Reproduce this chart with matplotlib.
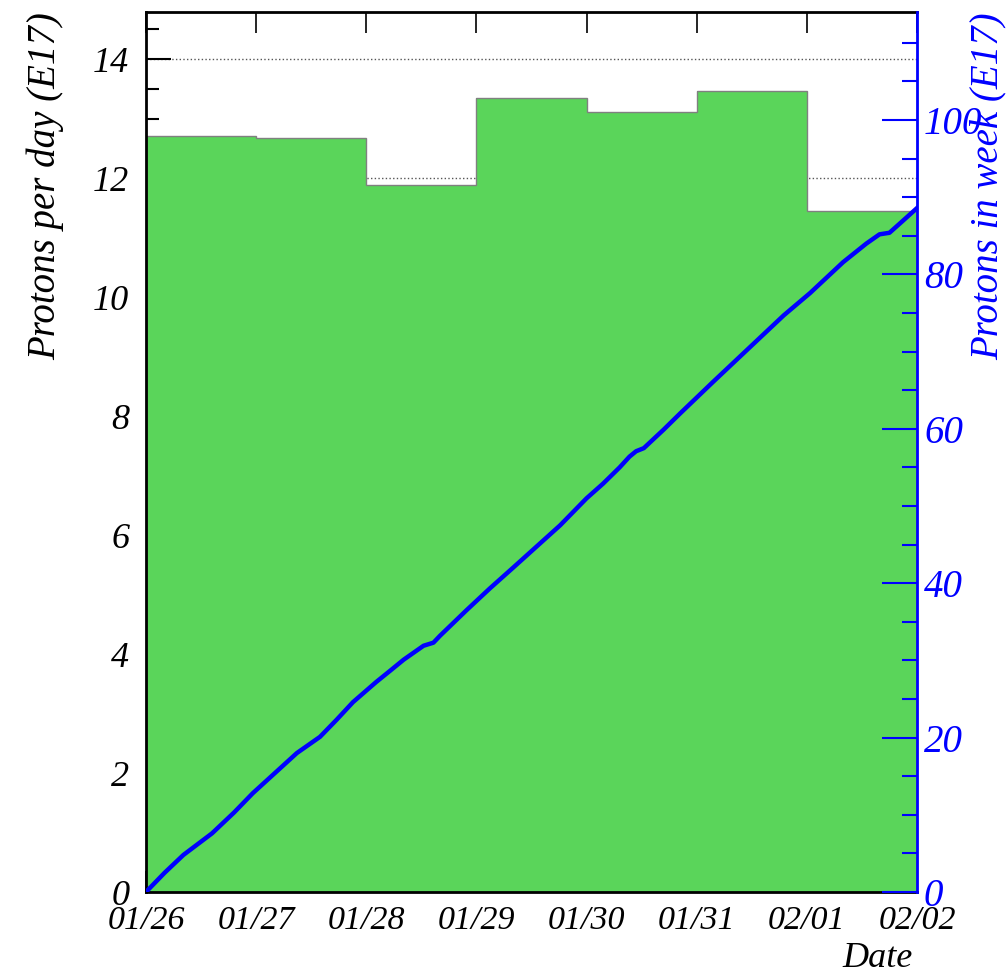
import numpy as np
from matplotlib import pyplot as plt

# daily delivered protons (E17), one bin per day
day_labels = ['01/26', '01/27', '01/28', '01/29', '01/30', '01/31', '02/01', '02/02']
per_day = [12.71, 12.67, 11.88, 13.35, 13.11, 13.46, 11.44]

# running total over the week (E17), time in days since 01/26
t_days = [0, 0.17, 0.34, 0.47, 0.60, 0.80, 0.97, 1.17, 1.37, 1.58, 1.73, 1.88,
          2.09, 2.22, 2.34, 2.45, 2.52, 2.61, 2.67, 2.91, 3.12, 3.34, 3.55, 3.76,
          4.00, 4.15, 4.30, 4.39, 4.45, 4.52, 4.70, 4.85, 5.15, 5.47, 5.79, 6.03,
          6.33, 6.54, 6.66, 6.75, 6.86, 7.0]
cumul = [0, 2.5, 4.8, 6.2, 7.6, 10.3, 12.8, 15.4, 18.0, 20.1, 22.3, 24.6,
         27.2, 28.7, 30.1, 31.2, 31.9, 32.3, 33.2, 36.5, 39.3, 42.1, 44.8, 47.5,
         51.0, 52.9, 55.0, 56.4, 57.1, 57.5, 59.9, 62.0, 66.1, 70.4, 74.7, 77.6,
         81.6, 84.0, 85.2, 85.4, 86.8, 88.6]

plt.rcParams['font.family'] = 'Liberation Serif'
plt.rcParams['font.style'] = 'italic'

fig = plt.figure(figsize=(10.08, 9.77), dpi=100)
ax = fig.add_axes([0.1448, 0.087, 0.7649, 0.9007])

edges = np.arange(len(per_day) + 1)
ax.stairs(per_day, edges, fill=True, color='#5AD55A', zorder=2)
ax.stairs(per_day, edges, color='#808080', lw=1, zorder=2.1)
ax.set_axisbelow(True)
ax.yaxis.grid(True, linestyle=':', color='#555555', lw=1)

ax.set_xlim(0, 7)
ax.set_ylim(0, 14.79)
ax.set_xticks(edges)
ax.set_xticklabels(day_labels)
ax.set_yticks(np.arange(0, 15, 2))
ax.set_yticks(np.arange(0, 14.8, 0.5), minor=True)
ax.tick_params(axis='x', direction='in', length=15, width=1.2, top=True,
               labelsize=24.5, pad=10)
ax.tick_params(axis='y', which='major', direction='in', length=18, width=1.5,
               right=False, labelsize=26, pad=12)
ax.tick_params(axis='y', which='minor', direction='in', length=9, width=1.5,
               right=False)
for s in ['left', 'bottom', 'top']:
    ax.spines[s].set_linewidth(2)
ax.spines['right'].set_visible(False)

ax.set_ylabel('Protons per day (E17)', fontsize=28, loc='top')
ax.yaxis.set_label_coords(-0.131, 1.0)
ax.yaxis.label.set_va('center')
ax.set_xlabel('Date', fontsize=26, loc='right')
ax.xaxis.set_label_coords(0.995, -0.057)

ax2 = ax.twinx()
ax2.plot(t_days, cumul, color='#0000FF', lw=3.2)
ax2.set_ylim(0, 114.0)
ax2.set_yticks(np.arange(0, 101, 20))
ax2.set_yticks(np.arange(0, 114, 5), minor=True)
ax2.tick_params(axis='y', which='major', direction='in', length=25, width=1.5,
                colors='#0000FF', labelsize=28, pad=5)
ax2.tick_params(axis='y', which='minor', direction='in', length=11, width=1.5,
                colors='#0000FF')
ax2.spines['right'].set_color('#0000FF')
ax2.spines['right'].set_linewidth(2)
for s in ['left', 'bottom', 'top']:
    ax2.spines[s].set_visible(False)
ax2.set_ylabel('Protons in week (E17)', fontsize=28, color='#0000FF', loc='top')
ax2.yaxis.set_label_coords(1.092, 1.0)
ax2.yaxis.label.set_va('center')

plt.savefig('out.png', dpi=100)
